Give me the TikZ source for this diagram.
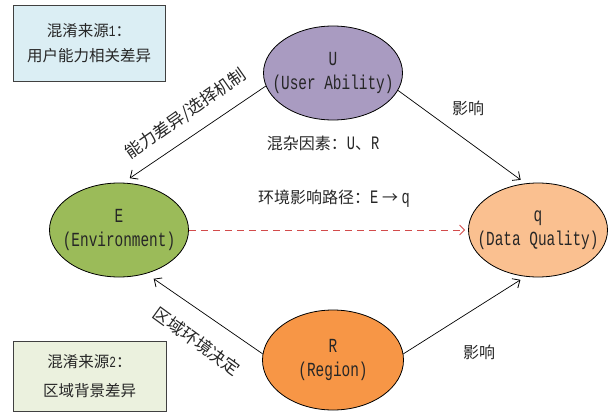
\documentclass[tikz,border=0pt]{standalone}
\usepackage{fontspec}
\setmainfont{Noto Sans CJK SC}
\newfontfamily\mono[FakeStretch=0.72]{Liberation Mono}
\usetikzlibrary{shapes.geometric,arrows.meta}
\definecolor{txt}{HTML}{262626}
\definecolor{boxA}{HTML}{DBEEF4}
\definecolor{boxB}{HTML}{EBF1DE}
\definecolor{colU}{HTML}{A99BC1}
\definecolor{colE}{HTML}{9BBB59}
\definecolor{colQ}{HTML}{FAC090}
\definecolor{colR}{HTML}{F79646}
\definecolor{dashred}{HTML}{D24B4B}
\tikzset{
  ell/.style={ellipse,draw=black,line width=0.8pt,inner sep=-22pt,minimum width=139pt,minimum height=94pt,align=center,text=txt,font=\mono\fontsize{20}{24}\selectfont},
  srcbox/.style={rectangle,draw=black!75,line width=0.8pt,inner sep=0pt,align=center,text=txt,font=\fontsize{15.5}{25}\selectfont},
  lbl/.style={text=txt,inner sep=0pt,font=\fontsize{16}{18}\selectfont},
  rlbl/.style={text=txt,inner sep=0pt,font=\fontsize{17}{18}\selectfont},
  conn/.style={draw=black,line width=0.7pt,-{Straight Barb[length=6pt,width=11pt,line width=0.8pt]}},
  dconn/.style={draw=dashred,line width=0.9pt,dash pattern=on 7pt off 5pt,-{Straight Barb[length=5pt,width=10pt,line width=0.8pt]}}
}
\newcommand\mtxt[1]{{\mono\fontsize{19}{18}\selectfont #1}}
\begin{document}
\begin{tikzpicture}[x=1pt,y=-1pt]
\useasboundingbox (0,0) rectangle (609,412);
\node[srcbox,fill=boxA,minimum width=152pt,minimum height=76pt] (s1) at (89,43) {混淆来源{\mono 1}：\\用户能力相关差异};
\node[srcbox,fill=boxB,minimum width=153pt,minimum height=70pt,font=\fontsize{15.5}{29}\selectfont] (s2) at (89.5,376) {混淆来源{\mono 2}：\\区域背景差异};
\node[ell,fill=colU] (U) at (333,73) {U\\(User Ability)};
\node[ell,fill=colE] (E) at (119,230) {E\\(Environment)};
\node[ell,fill=colQ] (q) at (538,230) {q\\(Data Quality)};
\node[ell,fill=colR,minimum height=100pt,minimum width=141pt] (R) at (333,360) {R\\(Region)};
\draw[conn,shorten >=8pt] (U.191) -- (E.85);
\draw[conn,shorten >=6pt] (U.-15) -- (q.105);
\draw[conn,shorten >=9pt] (R.175) -- (E.-58);
\draw[conn,shorten >=6pt] (R.5) -- (q.-105);
\draw[dconn,shorten >=3pt] (E.east) -- (q.west);
\node[rlbl,rotate=35] (l1) at (186,114) {能力差异/选择机制};
\node[rlbl,rotate=-36] (l2) at (197,341) {区域环境决定};
\node[lbl] (l3) at (468,108) {影响};
\node[lbl] (l4) at (479,352) {影响};
\node[lbl] (l5) at (323,143) {混杂因素：\mtxt{U}、\mtxt{R}};
\node[lbl] (l6) at (334,199) {环境影响路径：\mtxt{E} → \mtxt{q}};
\end{tikzpicture}
\end{document}
